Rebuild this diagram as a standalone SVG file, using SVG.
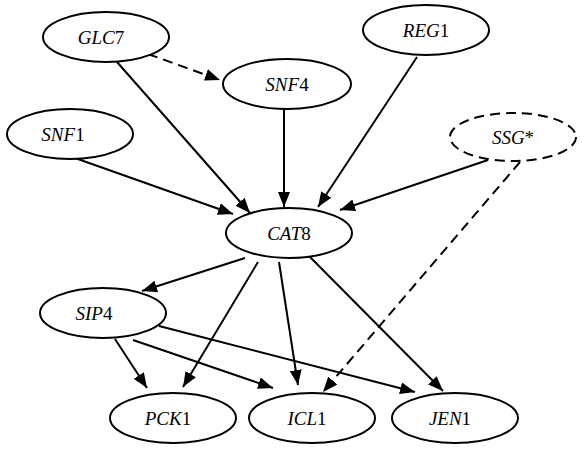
<svg xmlns="http://www.w3.org/2000/svg" width="582" height="449" viewBox="0 0 582 449">
<style>
.n ellipse{fill:#fff;stroke:#000;stroke-width:2}
.n ellipse.d{stroke-dasharray:10 6}
.e line{stroke:#000;stroke-width:2;marker-end:url(#ah)}
.e line.d{stroke-dasharray:10 6}
</style>
<defs>
<marker id="ah" markerUnits="userSpaceOnUse" markerWidth="16" markerHeight="12" refX="15" refY="6" orient="auto">
<path d="M0,0 L15,6 L0,12 z" fill="#000"/>
</marker>
</defs>
<rect width="582" height="449" fill="#fff"/>
<g id="edges" class="e">
<line class="d" x1="148" y1="54" x2="220" y2="80"/>
<line x1="117" y1="62" x2="250" y2="213"/>
<line x1="75" y1="158" x2="233" y2="214"/>
<line x1="284" y1="109" x2="284" y2="207"/>
<line x1="417" y1="57" x2="318" y2="207"/>
<line x1="488" y1="160" x2="340" y2="210"/>
<line class="d" x1="520" y1="162" x2="323" y2="392"/>
<line x1="245" y1="258" x2="142" y2="291"/>
<line x1="258" y1="262" x2="183" y2="387"/>
<line x1="279" y1="262" x2="298" y2="385"/>
<line x1="310" y1="257" x2="443" y2="391"/>
<line x1="115" y1="339" x2="147" y2="388"/>
<line x1="133" y1="340" x2="273" y2="388"/>
<line x1="159" y1="326" x2="415" y2="392"/>
</g>
<g font-family="Liberation Serif, serif" font-size="19" text-anchor="middle" fill="#000">
<g id="GLC7" class="n"><ellipse cx="106" cy="37" rx="63" ry="25"/><text x="101" y="44"><tspan font-style="italic">GLC</tspan>7</text></g>
<g id="SNF4" class="n"><ellipse cx="287" cy="84" rx="64" ry="25"/><text x="287" y="91"><tspan font-style="italic">SNF</tspan>4</text></g>
<g id="SNF1" class="n"><ellipse cx="70" cy="134" rx="63" ry="25"/><text x="63" y="141"><tspan font-style="italic">SNF</tspan>1</text></g>
<g id="REG1" class="n"><ellipse cx="426" cy="30" rx="63" ry="25"/><text x="426" y="37"><tspan font-style="italic">REG</tspan>1</text></g>
<g id="SSG" class="n"><ellipse class="d" cx="513" cy="137" rx="63" ry="24"/><text x="513" y="144"><tspan font-style="italic">SSG</tspan>*</text></g>
<g id="CAT8" class="n"><ellipse cx="289" cy="233" rx="63" ry="25"/><text x="289" y="240"><tspan font-style="italic">CAT</tspan>8</text></g>
<g id="SIP4" class="n"><ellipse cx="103" cy="313" rx="63" ry="25"/><text x="94" y="320"><tspan font-style="italic">SIP</tspan>4</text></g>
<g id="PCK1" class="n"><ellipse cx="173" cy="418" rx="63" ry="25"/><text x="168" y="425"><tspan font-style="italic">PCK</tspan>1</text></g>
<g id="ICL1" class="n"><ellipse cx="312" cy="418" rx="63" ry="25"/><text x="307" y="425"><tspan font-style="italic">ICL</tspan>1</text></g>
<g id="JEN1" class="n"><ellipse cx="455" cy="418" rx="63" ry="25"/><text x="450" y="425"><tspan font-style="italic">JEN</tspan>1</text></g>
</g>
</svg>
